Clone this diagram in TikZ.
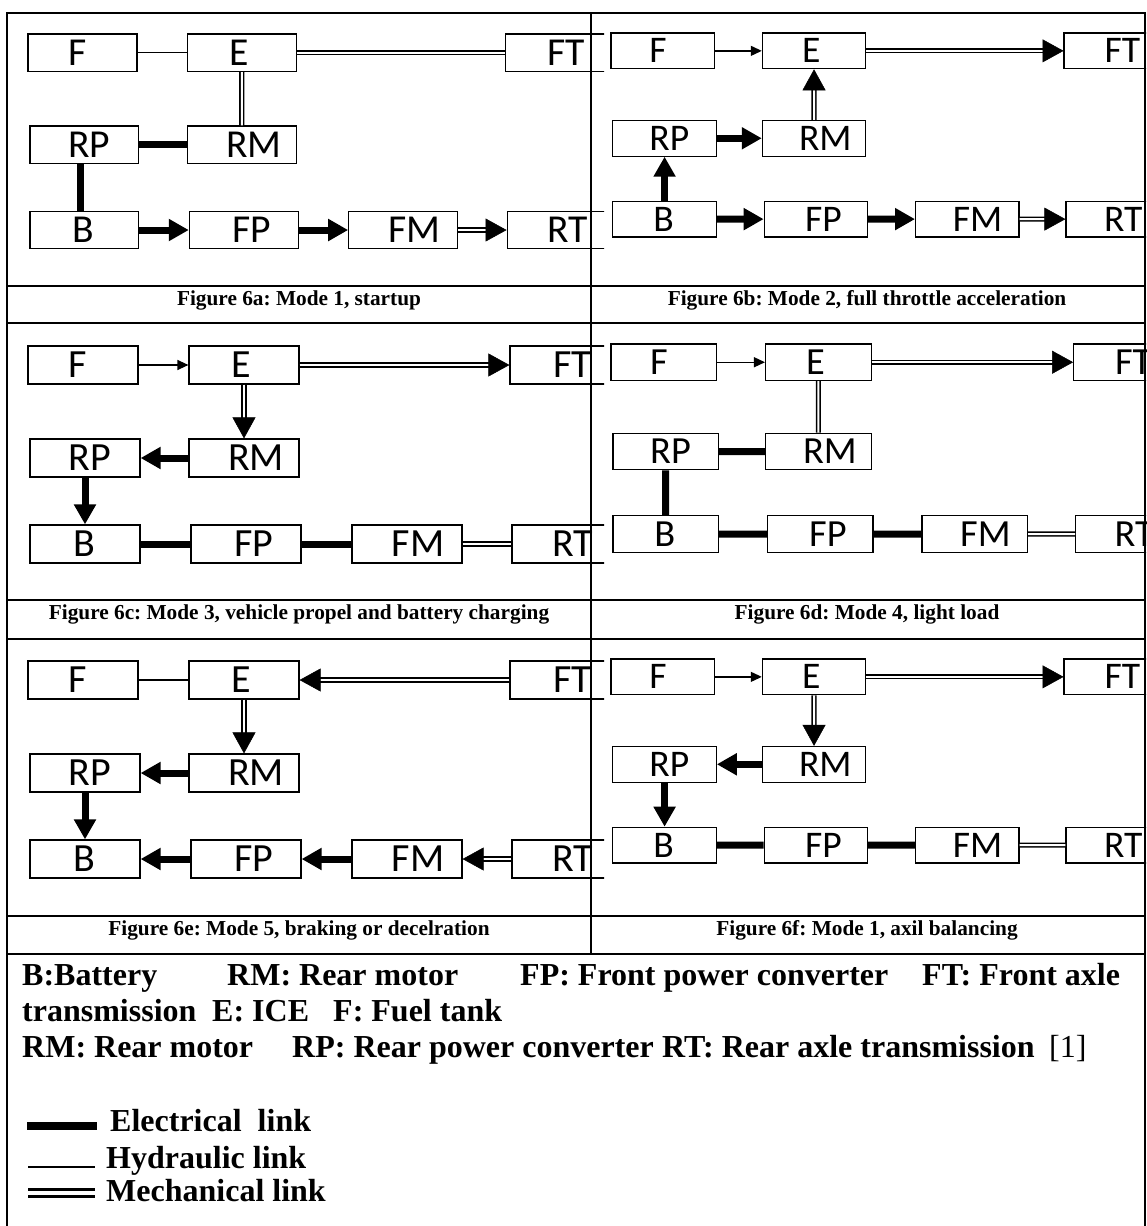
\documentclass[tikz,border=0pt]{standalone}
\usepackage{fontspec}
\setmainfont{Liberation Serif}
\newfontfamily\boxfont{Carlito}
\usetikzlibrary{arrows.meta}
\frenchspacing

% label inside a block, moved sideways by half of #1
\newcommand{\shifted}[2]{\makebox[0pt]{\hspace*{#1}#2}}
% the nine blocks of one mode diagram
\newcommand{\modeboxes}{%
  \node[blk] (F)  at (55,19)   {\shifted{-10pt}{F}};
  \node[blk] (E)  at (216,19)  {\shifted{-6pt}{E}};
  \node[blk] (FT) at (537,19)  {\shifted{14pt}{FT}};
  \node[blk] (RP) at (57,112)  {\shifted{10pt}{RP}};
  \node[blk] (RM) at (216,112) {\shifted{24pt}{RM}};
  \node[blk] (B)  at (57,198)  {\shifted{-2pt}{B}};
  \node[blk] (FP) at (218,198) {\shifted{16pt}{FP}};
  \node[blk] (FM) at (379,198) {\shifted{22pt}{FM}};
  \node[blk] (RT) at (539,198) {\shifted{12pt}{RT}};
}
\newcommand{\mecharrow}[2]{%
  \draw[mech, shorten >=19pt] #1 -- #2;
  \draw[mtip] #1 -- #2;
}

\begin{document}
\begin{tikzpicture}[x=1pt, y=-1pt,
    blk/.style={draw, line width=1.2pt, minimum width=110pt, minimum height=38pt,
      inner sep=0pt, font=\boxfont\fontsize{40}{40}\selectfont},
    hyd/.style={line width=1.3pt},
    harrow/.style={hyd, -{Triangle[length=11pt, width=10pt]}},
    elec/.style={line width=7pt},
    earrow/.style={elec, -{Triangle[length=20pt, width=21pt]}},
    mech/.style={double, double distance=2pt, line width=1.6pt},
    mtip/.style={draw=white, line width=0.5pt, shorten <=3pt,
      -{Triangle[length=21pt, width=23pt, color=black, fill=black]}},
    tablerule/.style={line width=2pt},
    captxt/.style={anchor=base, inner sep=0pt, font=\bfseries\fontsize{21.3}{24}\selectfont},
    legtxt/.style={anchor=base west, inner sep=0pt, font=\bfseries\fontsize{32}{36}\selectfont}]
  \useasboundingbox (0,0) rectangle (1146,1226);
  \clip (0,0) rectangle (1146,1226);

  % Figure 6a
  \begin{scope}
    \clip (8,14) rectangle (604,285);
    \begin{scope}[shift={(28,34)}, scale=0.99, transform shape]
      \modeboxes
      \draw[hyd] (F) -- (E);
      \draw[mech] (E) -- (FT);
      \draw[mech] (E) -- (RM);
      \draw[elec] (RP) -- (RM);
      \draw[elec] ([xshift=-4pt]RP.south) -- ([xshift=-4pt]RP.south |- B.north);
      \draw[earrow] (B) -- (FP);
      \draw[earrow] (FP) -- (FM);
      \mecharrow{(FM)}{(RT)}
    \end{scope}
  \end{scope}

  % Figure 6b
  \begin{scope}[shift={(611,33)}, scale=0.94, transform shape]
    \modeboxes
    \draw[harrow] (F) -- (E);
    \mecharrow{(E)}{(FT)}
    \mecharrow{(RM)}{(E)}
    \draw[earrow] (RP) -- (RM);
    \draw[earrow] (B) -- (RP);
    \draw[earrow] (B) -- (FP);
    \draw[earrow] (FP) -- (FM);
    \mecharrow{(FM)}{(RT)}
  \end{scope}

  % Figure 6c
  \begin{scope}
    \clip (8,324) rectangle (604,599);
    \begin{scope}[shift={(28,346)}, transform shape]
      \modeboxes
      \draw[harrow] (F) -- (E);
      \mecharrow{(E)}{(FT)}
      \mecharrow{(E)}{(RM)}
      \draw[earrow] (RM) -- (RP);
      \draw[earrow] (RP) -- (B);
      \draw[elec] (B) -- (FP);
      \draw[elec] (FP) -- (FM);
      \draw[mech] (FM) -- (RT);
    \end{scope}
  \end{scope}

  % Figure 6d
  \begin{scope}[shift={(611,344)}, scale=0.96, transform shape]
    \modeboxes
    \draw[harrow] (F) -- (E);
    \mecharrow{(E)}{(FT)}
    \draw[mech] (E) -- (RM);
    \draw[elec] (RP) -- (RM);
    \draw[elec] (RP) -- (B);
    \draw[elec] (B) -- (FP);
    \draw[elec] (FP) -- (FM);
    \draw[mech] (FM) -- (RT);
  \end{scope}

  % Figure 6e
  \begin{scope}
    \clip (8,640) rectangle (604,915);
    \begin{scope}[shift={(28,661)}, transform shape]
      \modeboxes
      \draw[hyd] (F) -- (E);
      \mecharrow{(FT)}{(E)}
      \mecharrow{(E)}{(RM)}
      \draw[earrow] (RM) -- (RP);
      \draw[earrow] (RP) -- (B);
      \draw[earrow] (FP) -- (B);
      \draw[earrow] (FM) -- (FP);
      \mecharrow{(RT)}{(FM)}
    \end{scope}
  \end{scope}

  % Figure 6f
  \begin{scope}[shift={(611,659)}, scale=0.94, transform shape]
    \modeboxes
    \draw[harrow] (F) -- (E);
    \mecharrow{(E)}{(FT)}
    \mecharrow{(E)}{(RM)}
    \draw[earrow] (RM) -- (RP);
    \draw[earrow] (RP) -- (B);
    \draw[elec] (B) -- (FP);
    \draw[elec] (FP) -- (FM);
    \draw[mech] (FM) -- (RT);
  \end{scope}

  % captions
  \node[captxt] (capa) at (299,305) {Figure 6a: Mode 1, startup};
  \node[captxt] (capb) at (867,305) {Figure 6b: Mode 2, full throttle acceleration};
  \node[captxt] (capc) at (299,619) {Figure 6c: Mode 3, vehicle propel and battery charging};
  \node[captxt] (capd) at (867,619) {Figure 6d: Mode 4, light load};
  \node[captxt] (cape) at (299,935) {Figure 6e: Mode 5, braking or decelration};
  \node[captxt] (capf) at (867,935) {Figure 6f: Mode 1, axil balancing};

  % table rules
  \draw[tablerule] (7,13) -- (1146,13);
  \foreach \y in {286, 323, 600, 639, 916, 954} {
    \draw[tablerule] (7,\y) -- (1146,\y);
  }
  \draw[tablerule] (7,12) -- (7,1226);
  \draw[tablerule] (591,12) -- (591,954);
  \draw[tablerule] (1145,12) -- (1145,1226);

  % key to the abbreviations
  \node[legtxt] (kb)   at (22,985)   {B:Battery};
  \node[legtxt] (krm)  at (227,985)  {RM: Rear motor};
  \node[legtxt] (kfp)  at (520,985)  {FP: Front power converter};
  \node[legtxt] (kft)  at (922,985)  {FT: Front axle};
  \node[legtxt] (ktr)  at (22,1021)  {transmission};
  \node[legtxt] (ke)   at (212,1021) {E: ICE};
  \node[legtxt] (kf)   at (333,1021) {F: Fuel tank};
  \node[legtxt] (krm2) at (22,1057)  {RM: Rear motor};
  \node[legtxt] (krp)  at (292,1057) {RP: Rear power converter};
  \node[legtxt] (krt)  at (662,1057) {RT: Rear axle transmission};
  \node[legtxt, font=\fontsize{32}{36}\selectfont] (kref) at (1049,1057) {[1]};

  % link types
  \coordinate (e1) at (27,1126);
  \coordinate (e2) at (97,1126);
  \coordinate (h1) at (28,1167);
  \coordinate (h2) at (95,1167);
  \coordinate (m1) at (28,1193);
  \coordinate (m2) at (95,1193);
  \draw[line width=8pt] (e1) -- (e2);
  \draw[line width=2pt] (h1) -- (h2);
  \draw[double, double distance=3.3pt, line width=3.3pt] (m1) -- (m2);
  \node[legtxt] (kel) at (110,1131) {Electrical\ \ link};
  \node[legtxt] (khy) at (106,1168) {Hydraulic link};
  \node[legtxt] (kme) at (106,1201) {Mechanical link};
\end{tikzpicture}
\end{document}
